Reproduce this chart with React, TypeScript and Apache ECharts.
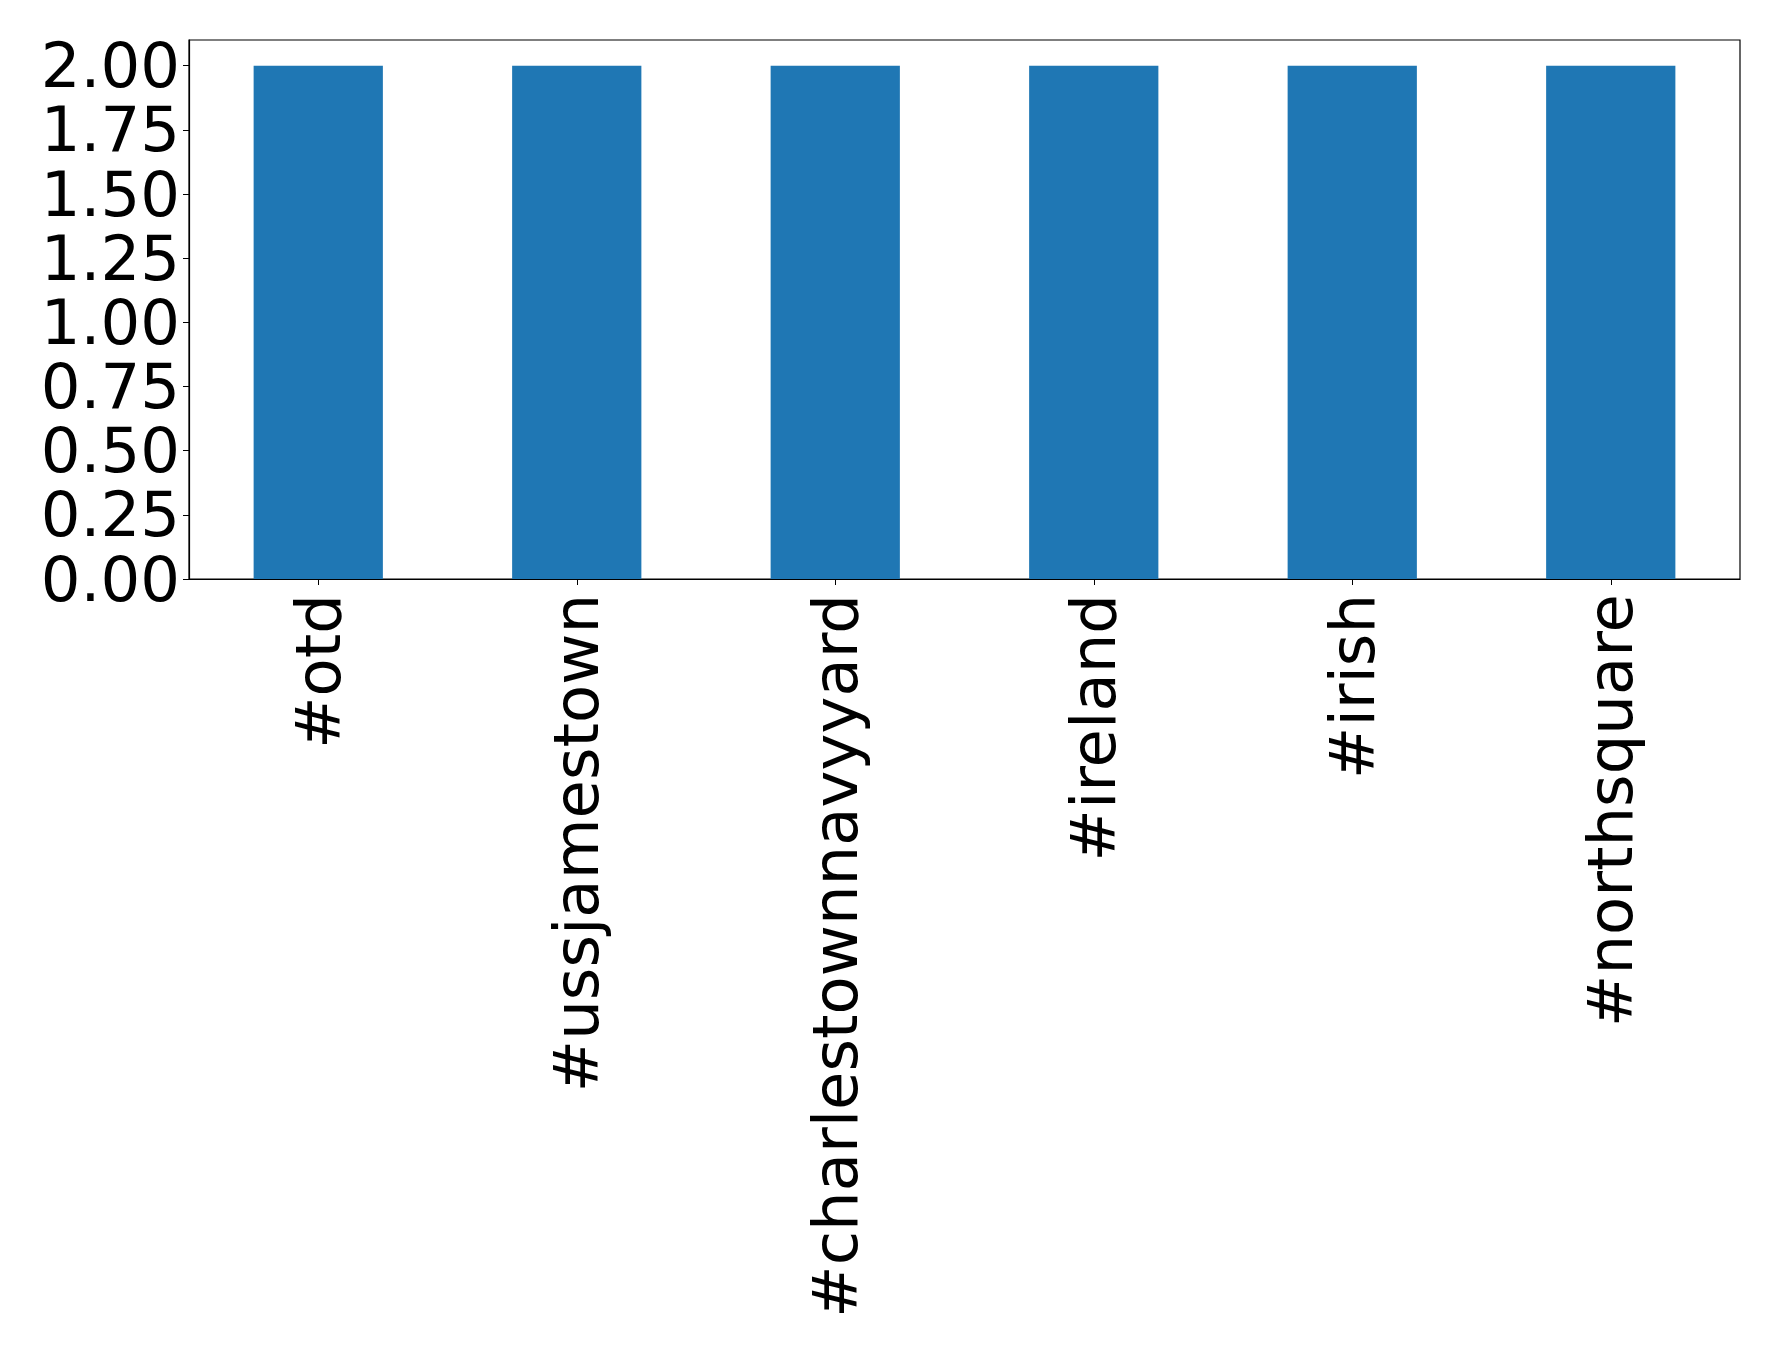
import React, { useEffect, useRef } from "react";
import * as echarts from "echarts";

const categories = ["#otd", "#ussjamestown", "#charlestownnavyyard", "#ireland", "#irish", "#northsquare"];
const counts = [2, 2, 2, 2, 2, 2];
const yTicks = [0, 0.25, 0.5, 0.75, 1.0, 1.25, 1.5, 1.75, 2.0];

const FONT = "DejaVu Sans";

export default function App() {
  const ref = useRef<HTMLDivElement>(null);
  useEffect(() => {
    document.body.style.margin = "0";
    const chart = echarts.init(ref.current!, null, { renderer: "svg" });
    chart.setOption({
      animation: false,
      backgroundColor: "#ffffff",
      grid: {
        left: 189,
        right: 38,
        top: 40,
        bottom: 773,
        show: true,
        borderColor: "#000000",
        borderWidth: 1.2,
        backgroundColor: "transparent",
      },
      xAxis: {
        type: "category",
        data: categories,
        axisLine: { show: true, lineStyle: { color: "#000", width: 1.2 } },
        axisTick: { show: true, alignWithLabel: true, length: 6, lineStyle: { color: "#000" } },
        axisLabel: {
          rotate: 90,
          fontSize: 62.5,
          fontFamily: FONT,
          color: "#000",
          margin: 15,
          interval: 0,
        },
        splitLine: { show: false },
      },
      yAxis: {
        type: "value",
        min: 0,
        max: 2.1,
        interval: 0.25,
        axisLine: { show: true, lineStyle: { color: "#000", width: 1.2 } },
        axisTick: { show: true, length: 6, lineStyle: { color: "#000" }, customValues: yTicks },
        axisLabel: {
          fontSize: 62.5,
          lineHeight: 56,
          fontFamily: FONT,
          color: "#000",
          margin: 9,
          customValues: yTicks,
          formatter: (v: number) => v.toFixed(2),
        },
        splitLine: { show: false },
      },
      series: [
        {
          type: "bar",
          data: counts,
          barWidth: "50%",
          itemStyle: { color: "#1f77b4" },
        },
      ],
    });
    return () => chart.dispose();
  }, []);
  return <div ref={ref} style={{ width: 1778, height: 1352 }} />;
}
